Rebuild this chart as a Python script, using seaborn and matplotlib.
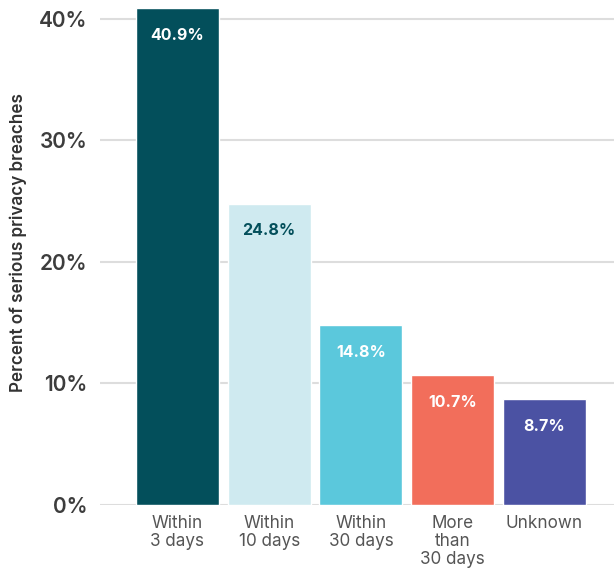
import matplotlib
matplotlib.use("Agg")
import matplotlib.pyplot as plt
import seaborn as sns
import pandas as pd

categories = ["Within\n3 days", "Within\n10 days", "Within\n30 days", "More\nthan\n30 days", "Unknown"]
values = [40.9, 24.8, 14.8, 10.7, 8.7]
colors = ["#034f5b", "#cfeaf0", "#5bc8dc", "#f26e5b", "#4b52a3"]
label_colors = ["white", "#034f5b", "white", "white", "white"]
yticks = [0, 10, 20, 30, 40]
ytick_labels = ["0%", "10%", "20%", "30%", "40%"]
ylabel = "Percent of serious privacy breaches"

sns.set_theme(style="white")
plt.rcParams["font.family"] = ["Inter", "DejaVu Sans"]

df = pd.DataFrame({"category": categories, "value": values})

fig = plt.figure(figsize=(6.14, 5.72), dpi=100)
ax = fig.add_axes([100 / 614, 1 - 505 / 572, 514 / 614, 505 / 572])

sns.barplot(data=df, x="category", y="value", hue="category",
            palette=colors, width=0.905, legend=False, ax=ax,
            saturation=1, zorder=3)

ax.set_xlim(-0.845, 4.76)
ax.set_ylim(0, 41.56)
ax.set_yticks(yticks)
ax.set_yticklabels(ytick_labels, fontsize=15, fontweight="semibold", color="#3d3d3d")
ax.yaxis.grid(True, color="#dddddd", linewidth=1.5, zorder=0)
ax.set_axisbelow(True)
for s in ax.spines.values():
    s.set_visible(False)
ax.tick_params(axis="y", length=0, pad=9)
ax.tick_params(axis="x", length=0, pad=7)
for t in ax.get_xticklabels():
    t.set_fontsize(12.3)
    t.set_color("#555555")
    t.set_linespacing(1.1)
    t.set_verticalalignment("top")

ax.set_xlabel("")
ax.set_ylabel("")
fig.text(18 / 614, 1 - 243 / 572, ylabel, rotation=90, ha="center", va="center",
         fontsize=12.3, fontweight="semibold", color="#333333")

for i, (v, c) in enumerate(zip(values, label_colors)):
    ax.annotate(f"{v}%", xy=(i, v), xytext=(0, -19.5), textcoords="offset points",
                ha="center", va="center", fontsize=11.5, fontweight="bold", color=c,
                zorder=4)

fig.savefig("out.png", dpi=100)
